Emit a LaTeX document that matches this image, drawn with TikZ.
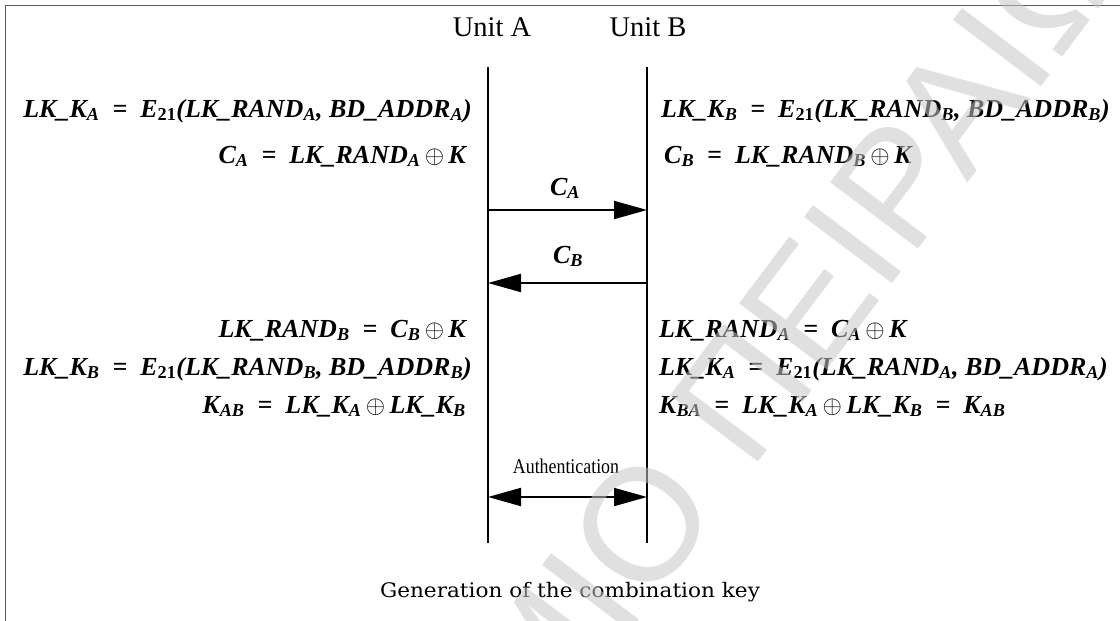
\documentclass[tikz,border=0pt]{standalone}
\usepackage{fontspec}
\setmainfont{Liberation Serif}
\newfontfamily\capfont{DejaVu Serif}
\newfontfamily\wmfont{Liberation Sans}
\usetikzlibrary{arrows.meta}
\definecolor{wmgray}{RGB}{200,200,200}
\newcommand\sbs[1]{\textsubscript{#1}}
\newcommand\xo{\,$\oplus$\,}
\begin{document}
\begin{tikzpicture}[x=1pt,y=-1pt,
  eqL/.style={inner sep=0pt, anchor=base east, font=\fontsize{26}{30}\selectfont\bfseries\itshape},
  eqR/.style={inner sep=0pt, anchor=base west, font=\fontsize{26}{30}\selectfont\bfseries\itshape},
  unitlbl/.style={inner sep=0pt, anchor=base, font=\fontsize{28.5}{30}\selectfont},
  msglbl/.style={inner sep=0pt, anchor=base, font=\fontsize{26}{30}\selectfont\bfseries\itshape},
  life/.style={line width=2.4pt, black},
  msg/.style={line width=2pt, black, -{Triangle[length=33pt,width=18pt]}},
  msgboth/.style={line width=2pt, black, {Triangle[length=33pt,width=18pt]}-{Triangle[length=33pt,width=18pt]}},
  frameline/.style={line width=1.6pt, black!65},
  wm/.style={rotate=53, inner sep=0pt, font=\wmfont\fontsize{160}{160}\selectfont, text=wmgray, text opacity=0.55}
]
\useasboundingbox (0,0) rectangle (1120,621);
\fill[white] (0,0) rectangle (1120,621);
% frame
\coordinate (fbl) at (5.5,621);
\coordinate (ftl) at (5.5,5.5);
\coordinate (ftr) at (1120,5.5);
\draw[frameline] (fbl) -- (ftl) -- (ftr);
% unit labels
\node[unitlbl] (uA) at (492,36) {Unit A};
\node[unitlbl] (uB) at (648,36) {Unit B};
% lifelines
\coordinate (Atop) at (488,67);
\coordinate (Abot) at (488,543);
\coordinate (Btop) at (647,67);
\coordinate (Bbot) at (647,543);
\draw[life] (Atop) -- (Abot);
\draw[life] (Btop) -- (Bbot);
% left equations
\node[eqL] (L1) at (472,117) {LK\_K\sbs{A} \ = \ E\sbs{\upshape 21}(LK\_RAND\sbs{A}, BD\_ADDR\sbs{A})};
\node[eqL] (L2) at (466,163) {C\sbs{A} \ = \ LK\_RAND\sbs{A}\xo K};
\node[eqL] (L3) at (466,337) {LK\_RAND\sbs{B} \ = \ C\sbs{B}\xo K};
\node[eqL] (L4) at (472,375) {LK\_K\sbs{B} \ = \ E\sbs{\upshape 21}(LK\_RAND\sbs{B}, BD\_ADDR\sbs{B})};
\node[eqL] (L5) at (466,413) {K\sbs{AB} \ = \ LK\_K\sbs{A}\xo LK\_K\sbs{B}};
% right equations
\node[eqR] (R1) at (661,117) {LK\_K\sbs{B} \ = \ E\sbs{\upshape 21}(LK\_RAND\sbs{B}, BD\_ADDR\sbs{B})};
\node[eqR] (R2) at (664,163) {C\sbs{B} \ = \ LK\_RAND\sbs{B}\xo K};
\node[eqR] (R3) at (659,337) {LK\_RAND\sbs{A} \ = \ C\sbs{A}\xo K};
\node[eqR] (R4) at (659,375) {LK\_K\sbs{A} \ = \ E\sbs{\upshape 21}(LK\_RAND\sbs{A}, BD\_ADDR\sbs{A})};
\node[eqR] (R5) at (659,413) {K\sbs{BA} \ = \ LK\_K\sbs{A}\xo LK\_K\sbs{B} \ = \ K\sbs{AB}};
% messages
\coordinate (a1) at (488,210);
\coordinate (b1) at (647,210);
\coordinate (a2) at (488,283);
\coordinate (b2) at (647,283);
\coordinate (a3) at (488,497);
\coordinate (b3) at (647,497);
\draw[msg] (a1) -- (b1);
\draw[msg] (b2) -- (a2);
\draw[msgboth] (a3) -- (b3);
\node[msglbl] (lCA) at (565,195) {C\sbs{A}};
\node[msglbl] (lCB) at (568,263) {C\sbs{B}};
\node[inner sep=0pt, anchor=base] (lAuth) at (566,473) {\scalebox{0.85}[1]{\fontsize{21}{24}\selectfont Authentication}};
% caption
\node[inner sep=0pt, anchor=base] (cap) at (570,597) {\scalebox{1.08}[1]{\capfont\fontsize{20}{24}\selectfont Generation of the combination key}};
% watermark
\coordinate (wmo) at (648.4,607.6);
\node[wm, anchor=base east] (wm1) at (wmo) {ΠΑΝΕΠΙΣΤΗΜΙ};
\node[wm, anchor=base west] (wm2) at (wmo) {Ο ΠΕΙΡΑΙΩΣ};
\end{tikzpicture}
\end{document}
